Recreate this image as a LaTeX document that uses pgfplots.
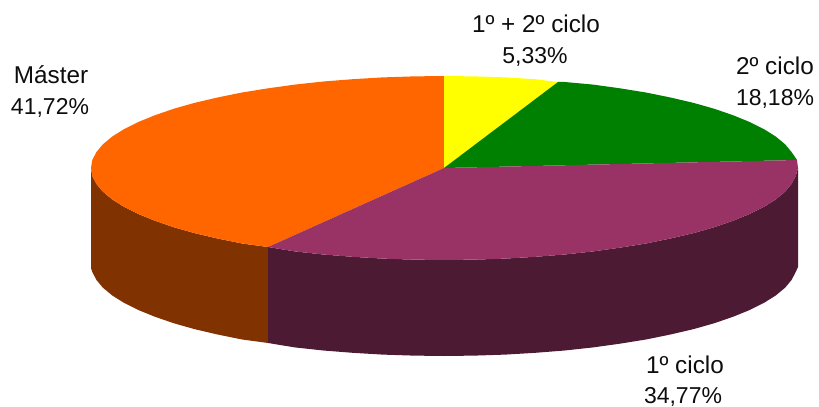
\documentclass[border=0pt]{standalone}
\usepackage{fontspec}
\setmainfont{Liberation Sans}
\usepackage{pgfplots}
\pgfplotsset{compat=1.18}
\definecolor{cOrange}{HTML}{FF6600}
\definecolor{cYellow}{HTML}{FFFF00}
\definecolor{cGreen}{HTML}{008000}
\definecolor{cPurple}{HTML}{993366}
\definecolor{cDarkPurple}{HTML}{4D1A33}
\definecolor{cBrown}{HTML}{803300}
\tikzset{lab/.style={font=\fontsize{23bp}{28bp}\selectfont, anchor=base, text=black!95, inner sep=0pt},
 labt/.style={font=\fontsize{24.3bp}{28bp}\selectfont, anchor=base, text=black!95, inner sep=0pt}}
\begin{document}
\begin{tikzpicture}
\useasboundingbox (0,0) rectangle (819bp,407bp);
\begin{axis}[
  at={(0,0)}, anchor=south west,
  scale only axis, width=819bp, height=407bp,
  xmin=0, xmax=819, ymin=0, ymax=407, y dir=reverse,
  axis lines=none, ticks=none, clip=false,
]
% side of Master
\addplot[fill=cBrown, draw=none] coordinates {
(268,247)(241.5,243.4)(217.1,238.4)(194.4,233.1)(173.6,227.2)(154.8,220.7)(138.3,214)(124.1,206.9)(112.3,199.5)(103,191.8)(96.4,183.9)(92.3,176)(91,168)
(91,268)(92.3,272)(96.4,279.9)(103,287.8)(112.3,295.5)(124.1,302.9)(138.3,310)(154.8,316.7)(173.6,323.2)(194.4,329.1)(217.1,334.4)(241.5,339.4)(268,343)
} -- cycle;
% side of 1o ciclo
\addplot[fill=cDarkPurple, draw=none] coordinates {
(798,168)(795.7,176)(791.6,183.9)(785,191.8)(775.7,199.5)(763.9,206.9)(749.7,214)(733.2,220.7)(714.4,227.2)(693.6,233.1)(670.9,238.4)(646.5,243.4)(620.5,247.6)(593.2,251.4)(564.7,254.5)(535.4,256.8)(505.3,258.6)(474.8,259.6)(444,260)(413.2,259.6)(382.7,258.6)(352.6,256.8)(323.3,254.5)(294.8,251.4)(268,247)
(268,343)(294.8,347.4)(323.3,350.5)(352.6,352.8)(382.7,354.6)(413.2,355.6)(444,356)(474.8,355.6)(505.3,354.6)(535.4,352.8)(564.7,350.5)(593.2,347.4)(620.5,343.6)(646.5,339.4)(670.9,334.4)(693.6,329.1)(714.4,323.2)(733.2,316.7)(749.7,310)(763.9,302.9)(775.7,295.5)(785,287.8)(791.6,279.9)(795.7,272)(798,267)
} -- cycle;
% top of Master
\addplot[fill=cOrange, draw=none] coordinates {
(444,168)(268,247)(241.5,243.4)(217.1,238.4)(194.4,233.1)(173.6,227.2)(154.8,220.7)(138.3,214)(124.1,206.9)(112.3,199.5)(103,191.8)(96.4,183.9)(92.3,176)(91,168)(92.3,160)(96.4,152.1)(103,144.2)(112.3,136.5)(124.1,129.1)(138.3,122)(154.8,115.3)(173.6,108.8)(194.4,102.9)(217.1,97.6)(241.5,92.6)(267.5,88.4)(294.8,84.6)(323.3,81.5)(352.6,79.2)(382.7,77.4)(413.2,76.4)(444,76)
} -- cycle;
% top of 1o + 2o ciclo
\addplot[fill=cYellow, draw=none] coordinates {
(444,168)(444,76)(474.8,76.4)(505.3,77.4)(535.4,79.2)(558,82)
} -- cycle;
% top of 2o ciclo
\addplot[fill=cGreen, draw=none] coordinates {
(444,168)(558,82)(564.7,82)(593.2,84.6)(620.5,88.4)(646.5,92.6)(670.9,97.6)(693.6,102.9)(714.4,108.8)(733.2,115.3)(749.7,122)(763.9,129.1)(775.7,136.5)(785,144.2)(791.6,152.1)(797,160)
} -- cycle;
% top of 1o ciclo
\addplot[fill=cPurple, draw=none] coordinates {
(444,168)(797,160)(798,168)(795.7,176)(791.6,183.9)(785,191.8)(775.7,199.5)(763.9,206.9)(749.7,214)(733.2,220.7)(714.4,227.2)(693.6,233.1)(670.9,238.4)(646.5,243.4)(620.5,247.6)(593.2,251.4)(564.7,254.5)(535.4,256.8)(505.3,258.6)(474.8,259.6)(444,260)(413.2,259.6)(382.7,258.6)(352.6,256.8)(323.3,254.5)(294.8,251.4)(268,247)
} -- cycle;
\node[labt] at (axis cs:536,33) {1º + 2º ciclo};
\node[lab] at (axis cs:535,64) {5,33\%};
\node[labt] at (axis cs:775,75) {2º ciclo};
\node[lab] at (axis cs:775,106) {18,18\%};
\node[labt] at (axis cs:51,84) {Máster};
\node[lab] at (axis cs:50,115) {41,72\%};
\node[labt] at (axis cs:685,373) {1º ciclo};
\node[lab] at (axis cs:683,403) {34,77\%};
\end{axis}
\end{tikzpicture}
\end{document}
